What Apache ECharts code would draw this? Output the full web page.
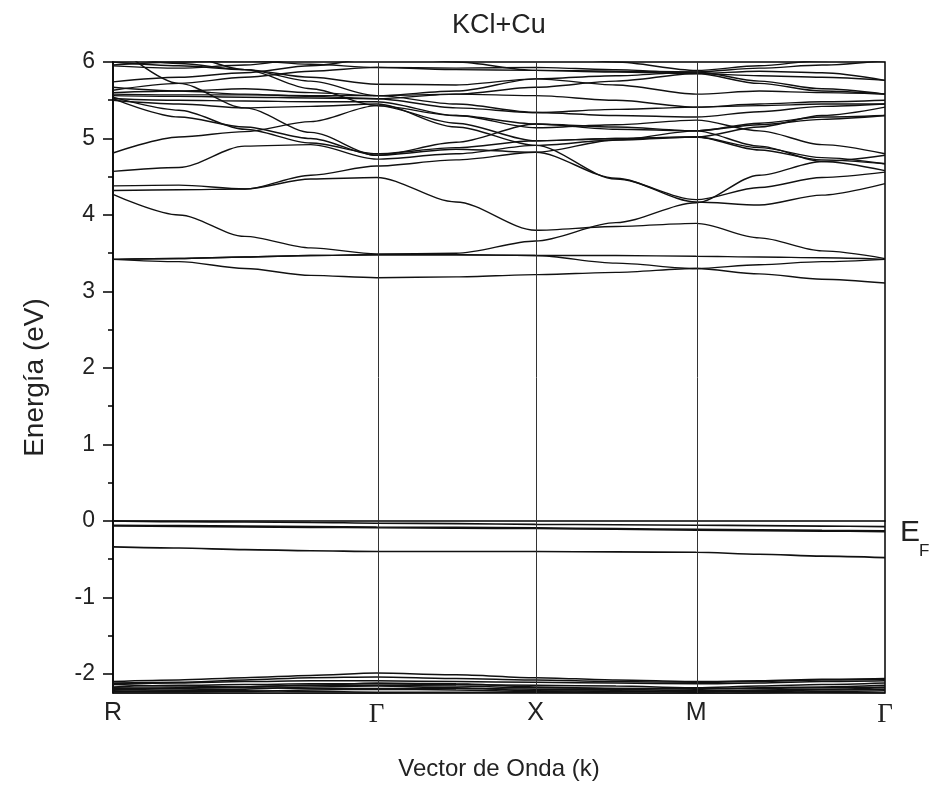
<!DOCTYPE html>
<html>
<head>
<meta charset="utf-8">
<script src="https://cdn.jsdelivr.net/npm/echarts@6/dist/echarts.min.js"></script>
<style>
  html, body { margin: 0; padding: 0; background: #fff; }
  #chart { width: 932px; height: 786px; }
</style>
</head>
<body>
<div id="chart"></div>
<script>
// High-symmetry points along the path R - Γ - X - M - Γ (path length, 2π/a)
const kTicks = [0, 0.866, 1.388, 1.916, 2.536];
const kLabels = ['R', 'Γ', 'X', 'M', 'Γ'];

// k samples at which each band energy is listed
const kGrid = [0, 0.2165, 0.433, 0.6495, 0.866, 1.127, 1.388, 1.652, 1.916, 2.123, 2.329, 2.536];

// Energy axis ticks (eV)
const energyTicks = [-2, -1, 0, 1, 2, 3, 4, 5, 6];
const energyMinorTicks = [-1.5, -0.5, 0.5, 1.5, 2.5, 3.5, 4.5, 5.5];
const fermiLevel = 0;

// Cl-p valence manifold (eV)
const valenceBands = [
  [-2.10, -2.08, -2.05, -2.02, -1.99, -2.01, -2.05, -2.08, -2.10, -2.09, -2.07, -2.06],
  [-2.12, -2.11, -2.08, -2.05, -2.04, -2.06, -2.08, -2.10, -2.11, -2.10, -2.08, -2.07],
  [-2.13, -2.12, -2.10, -2.09, -2.09, -2.10, -2.11, -2.12, -2.13, -2.12, -2.10, -2.09],
  [-2.14, -2.16, -2.17, -2.15, -2.12, -2.13, -2.17, -2.19, -2.20, -2.18, -2.17, -2.15],
  [-2.17, -2.15, -2.14, -2.13, -2.13, -2.14, -2.15, -2.16, -2.18, -2.16, -2.14, -2.12],
  [-2.18, -2.19, -2.17, -2.15, -2.15, -2.16, -2.18, -2.19, -2.19, -2.19, -2.18, -2.17],
  [-2.19, -2.18, -2.18, -2.19, -2.19, -2.19, -2.20, -2.20, -2.22, -2.21, -2.20, -2.18],
  [-2.20, -2.21, -2.20, -2.17, -2.16, -2.18, -2.22, -2.23, -2.24, -2.23, -2.24, -2.25],
  [-2.22, -2.23, -2.23, -2.21, -2.20, -2.21, -2.23, -2.22, -2.23, -2.22, -2.21, -2.20],
  [-2.23, -2.22, -2.22, -2.23, -2.24, -2.24, -2.24, -2.25, -2.26, -2.25, -2.23, -2.22],
  [-2.25, -2.25, -2.26, -2.26, -2.26, -2.27, -2.28, -2.28, -2.28, -2.28, -2.28, -2.28]
];

// Cu d-derived levels around the Fermi energy (eV)
const impurityBands = [
  [0.00, -0.010, -0.015, -0.020, -0.030, -0.035, -0.045, -0.050, -0.056, -0.062, -0.068, -0.075],
  [-0.056, -0.062, -0.068, -0.074, -0.080, -0.085, -0.090, -0.100, -0.110, -0.117, -0.124, -0.130],
  [-0.066, -0.072, -0.078, -0.084, -0.090, -0.095, -0.100, -0.110, -0.120, -0.127, -0.134, -0.140],
  [-0.34, -0.355, -0.375, -0.39, -0.40, -0.40, -0.40, -0.405, -0.41, -0.435, -0.46, -0.48]
];

// Conduction bands (eV)
const conductionBands = [
  [3.42, 3.39, 3.30, 3.21, 3.18, 3.19, 3.22, 3.25, 3.30, 3.23, 3.16, 3.11],
  [3.42, 3.43, 3.45, 3.47, 3.48, 3.48, 3.47, 3.37, 3.30, 3.35, 3.39, 3.42],
  [3.42, 3.43, 3.45, 3.47, 3.48, 3.48, 3.47, 3.47, 3.46, 3.45, 3.44, 3.42],
  [4.27, 4.00, 3.72, 3.57, 3.49, 3.50, 3.66, 3.90, 4.16, 4.52, 4.70, 4.78],
  [4.38, 4.39, 4.34, 4.47, 4.49, 4.17, 3.80, 3.85, 3.89, 3.70, 3.53, 3.43],
  [4.32, 4.33, 4.34, 4.52, 4.64, 4.72, 4.82, 4.48, 4.17, 4.13, 4.26, 4.41],
  [4.57, 4.62, 4.90, 4.92, 4.73, 4.80, 4.91, 4.47, 4.20, 4.36, 4.49, 4.56],
  [4.81, 5.02, 5.09, 5.22, 5.43, 5.30, 5.14, 5.18, 5.24, 5.10, 4.92, 4.80],
  [5.54, 5.37, 5.12, 4.94, 4.80, 4.88, 4.97, 5.00, 5.02, 4.85, 4.72, 4.67],
  [5.52, 5.28, 5.15, 5.00, 4.78, 4.86, 4.82, 4.98, 5.10, 4.90, 4.70, 4.58],
  [6.25, 5.72, 5.40, 5.08, 4.78, 4.95, 5.19, 5.12, 5.10, 5.20, 5.28, 5.30],
  [5.56, 5.55, 5.54, 5.53, 5.52, 5.40, 5.34, 5.30, 5.28, 5.35, 5.42, 5.45],
  [5.58, 5.57, 5.57, 5.56, 5.56, 5.58, 5.56, 5.50, 5.41, 5.43, 5.45, 5.45],
  [5.63, 5.72, 5.80, 5.88, 5.93, 5.92, 5.93, 5.90, 5.85, 5.82, 5.80, 5.76],
  [5.67, 5.62, 5.58, 5.55, 5.52, 5.58, 5.67, 5.75, 5.85, 5.72, 5.62, 5.58],
  [5.74, 5.80, 5.86, 5.95, 6.05, 6.10, 6.10, 6.00, 5.89, 5.95, 6.02, 6.10],
  [5.52, 5.50, 5.49, 5.48, 5.48, 5.30, 5.19, 5.15, 5.10, 5.18, 5.25, 5.30],
  [6.30, 6.10, 5.90, 5.65, 5.43, 5.20, 4.97, 5.00, 5.02, 5.15, 5.30, 5.41],
  [6.00, 5.95, 5.90, 5.80, 5.71, 5.70, 5.78, 5.82, 5.87, 5.75, 5.65, 5.58],
  [5.60, 5.62, 5.65, 5.60, 5.56, 5.45, 5.34, 5.38, 5.41, 5.45, 5.48, 5.50],
  [5.96, 6.00, 6.02, 5.97, 5.93, 5.90, 5.89, 5.88, 5.87, 5.92, 5.96, 6.02],
  [5.50, 5.45, 5.40, 5.42, 5.45, 5.15, 4.91, 4.98, 5.02, 4.88, 4.75, 4.67],
  [6.10, 5.98, 5.90, 5.75, 5.56, 5.62, 5.78, 5.70, 5.58, 5.62, 5.60, 5.58],
  [5.95, 5.92, 5.96, 6.05, 6.10, 6.00, 5.89, 5.87, 5.85, 5.88, 5.86, 5.76]
];

const FONT = '"Liberation Sans", Arial, Helvetica, sans-serif';
const SERIF = '"Liberation Serif", "DejaVu Serif", serif';
const INK = '#111';
const TEXT = '#222';

function bandSeries(values, width) {
  return {
    type: 'line',
    data: kGrid.map((k, i) => [k, values[i]]),
    showSymbol: false,
    smooth: 0.3,
    smoothMonotone: 'x',
    clip: true,
    silent: true,
    lineStyle: { color: INK, width: width }
  };
}

const series = []
  .concat(valenceBands.map(b => bandSeries(b, 1.5)))
  .concat(impurityBands.map(b => bandSeries(b, 1.6)))
  .concat(conductionBands.map(b => bandSeries(b, 1.4)));

// Vertical guides at the interior high-symmetry points
series.push({
  type: 'line',
  data: [],
  silent: true,
  markLine: {
    silent: true,
    symbol: 'none',
    animation: false,
    label: { show: false },
    lineStyle: { color: '#333', width: 1, type: 'solid' },
    data: kTicks.slice(1, 4).map(k => ({ xAxis: k }))
  }
});

const chart = echarts.init(document.getElementById('chart'), null, { renderer: 'canvas' });
chart.setOption({
  animation: false,
  backgroundColor: '#fff',
  title: {
    text: 'KCl+Cu',
    left: 447,
    top: 7,
    textStyle: { fontFamily: FONT, fontSize: 27, fontWeight: 'normal', color: TEXT }
  },
  grid: {
    left: 113, right: 47, top: 62, bottom: 93,
    show: true, borderColor: '#000', borderWidth: 1.5, backgroundColor: 'transparent'
  },
  xAxis: {
    type: 'value',
    min: kTicks[0],
    max: kTicks[kTicks.length - 1],
    name: 'Vector de Onda (k)',
    nameLocation: 'middle',
    nameGap: 64,
    nameTextStyle: { fontFamily: FONT, fontSize: 24, color: TEXT },
    axisLine: { show: true, lineStyle: { color: '#000', width: 1.5 } },
    axisTick: { show: false },
    splitLine: { show: false },
    axisLabel: {
      customValues: kTicks,
      margin: 8,
      formatter: function (v) {
        const i = kTicks.findIndex(t => Math.abs(t - v) < 1e-6);
        const s = i >= 0 ? kLabels[i] : '';
        return s === 'Γ' ? '{g|Γ}' : '{n|' + s + '}';
      },
      rich: {
        n: { fontFamily: FONT, fontSize: 25, color: TEXT },
        g: { fontFamily: SERIF, fontSize: 27, color: TEXT }
      }
    }
  },
  yAxis: [
    {
      type: 'value',
      min: -2.25,
      max: 6,
      name: 'Energía (eV)',
      nameLocation: 'middle',
      nameGap: 64,
      nameTextStyle: { fontFamily: FONT, fontSize: 28, color: TEXT },
      axisLine: { show: true, lineStyle: { color: '#000', width: 1.5 } },
      axisTick: { show: true, inside: false, length: 10, customValues: energyTicks, lineStyle: { color: '#000', width: 1.5 } },
      axisLabel: { customValues: energyTicks, margin: 18, fontFamily: FONT, fontSize: 23, color: TEXT },
      splitLine: { show: false }
    },
    {
      type: 'value',
      min: -2.25,
      max: 6,
      position: 'left',
      axisLine: { show: false },
      axisTick: { show: true, inside: false, length: 5, customValues: energyMinorTicks, lineStyle: { color: '#000', width: 1.5 } },
      axisLabel: { show: false },
      splitLine: { show: false }
    }
  ],
  series: series
});

// Fermi-level tag beside the right frame, anchored to E = 0
const ef = chart.convertToPixel({ gridIndex: 0 }, [kTicks[kTicks.length - 1], fermiLevel]);
chart.setOption({
  graphic: [
    {
      type: 'text', silent: true,
      x: ef[0] + 15, y: ef[1] + 27,
      style: { text: 'E', fontFamily: FONT, fontSize: 30, fill: TEXT, verticalAlign: 'bottom', align: 'left' }
    },
    {
      type: 'text', silent: true,
      x: ef[0] + 34, y: ef[1] + 39,
      style: { text: 'F', fontFamily: FONT, fontSize: 17, fill: TEXT, verticalAlign: 'bottom', align: 'left' }
    }
  ]
});
</script>
</body>
</html>
